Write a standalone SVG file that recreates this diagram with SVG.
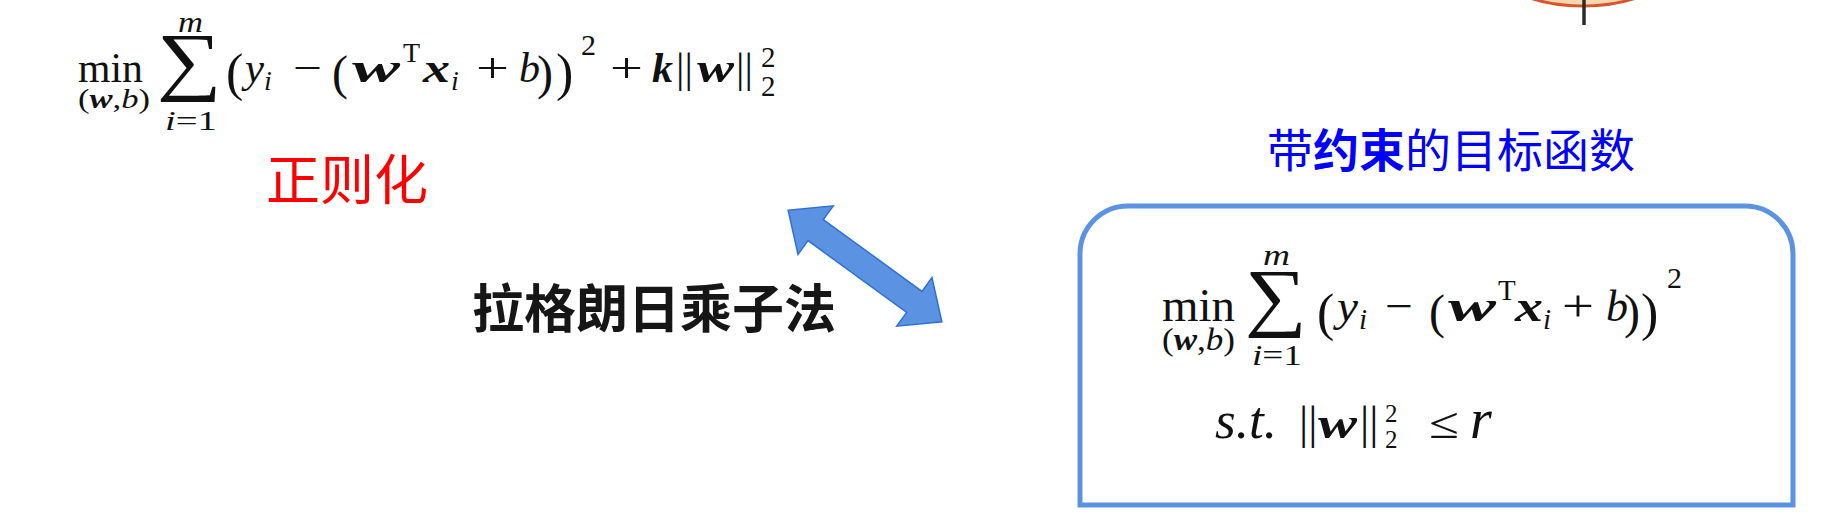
<svg xmlns="http://www.w3.org/2000/svg" width="1829" height="528" viewBox="0 0 1829 528">
<style>
.math{font-family:"Liberation Serif","DejaVu Serif",serif;fill:#111}
.it{font-style:italic}
.bi{font-style:italic;font-weight:bold}
.cjk{font-family:"Noto Sans CJK SC","Noto Sans",sans-serif}
</style>
<rect x="0" y="0" width="1829" height="528" fill="#ffffff"/>

<g id="image-fragment">
<ellipse cx="1583" cy="-60" rx="110" ry="66" fill="#fbd7b0" stroke="#d9542c" stroke-width="3"/>
<ellipse cx="1583" cy="-62" rx="104" ry="61" fill="none" stroke="#f3a96a" stroke-width="2"/>
<line x1="1584" y1="0" x2="1584" y2="25" stroke="#2a2a2a" stroke-width="3.5"/>
</g>

<g id="formula-regularized" class="math">
<text x="78" y="82" font-size="42" textLength="65" lengthAdjust="spacingAndGlyphs">min</text>
<text x="78" y="108" font-size="28" textLength="72" lengthAdjust="spacingAndGlyphs">(<tspan class="bi">w</tspan>,<tspan class="it">b</tspan>)</text>
<text x="157" y="86" font-size="76" textLength="65" lengthAdjust="spacingAndGlyphs">∑</text>
<text x="178" y="32" font-size="30" class="it" textLength="25" lengthAdjust="spacingAndGlyphs">m</text>
<text x="165" y="130" font-size="28" textLength="52" lengthAdjust="spacingAndGlyphs"><tspan class="it">i</tspan>=1</text>
<text x="226" y="90" font-size="52">(</text>
<text x="245" y="82" font-size="42" class="it" textLength="19" lengthAdjust="spacingAndGlyphs">y</text>
<text x="264" y="90" font-size="28" class="it">i</text>
<text x="293" y="82" font-size="42" textLength="29" lengthAdjust="spacingAndGlyphs">−</text>
<text x="332" y="89" font-size="48">(</text>
<text x="352" y="82" font-size="42" class="bi" textLength="48" lengthAdjust="spacingAndGlyphs">w</text>
<text x="403" y="62" font-size="28">T</text>
<text x="423" y="82" font-size="42" class="bi" textLength="27" lengthAdjust="spacingAndGlyphs">x</text>
<text x="451" y="90" font-size="28" class="it">i</text>
<text x="476" y="82" font-size="42" textLength="33" lengthAdjust="spacingAndGlyphs">+</text>
<text x="519" y="82" font-size="42" class="it">b</text>
<text x="537" y="89" font-size="48">)</text>
<text x="556" y="90" font-size="52">)</text>
<text x="581" y="55" font-size="30">2</text>
<text x="610" y="82" font-size="42" textLength="33" lengthAdjust="spacingAndGlyphs">+</text>
<text x="652" y="82" font-size="42" class="bi">k</text>
<text x="676" y="82" font-size="42">||</text>
<text x="697" y="82" font-size="42" class="bi" textLength="37" lengthAdjust="spacingAndGlyphs">w</text>
<text x="736" y="82" font-size="42">||</text>
<text x="761" y="67" font-size="29">2</text>
<text x="761" y="96" font-size="29">2</text>
</g>

<g id="label-regularization">
<text class="cjk" x="266" y="200" font-size="54" fill="#ff0000">正则化</text>
</g>

<g id="label-lagrange">
<text class="cjk" x="472" y="328" font-size="52" font-weight="bold" fill="#161616">拉格朗日乘子法</text>
</g>

<g id="connectors">
<polygon transform="translate(865 266) rotate(36)" points="-95,0 -61,-30 -61,-13 61,-13 61,-30 95,0 61,30 61,13 -61,13 -61,30" fill="#5b93e2" stroke="#3070d6" stroke-width="1.5" stroke-linejoin="miter"/>
</g>

<g id="title-constrained">
<text class="cjk" x="1267" y="167" font-size="46" fill="#0000ff">带<tspan font-weight="bold">约束</tspan>的目标函数</text>
</g>

<g id="box-constrained">
<path d="M1080,505 L1080,254 A48,48 0 0 1 1128,206 L1745,206 A48,48 0 0 1 1793,254 L1793,505 Z" fill="#ffffff" stroke="#5b93e2" stroke-width="5"/>
<g class="math">
<text x="1162" y="321" font-size="47" textLength="73" lengthAdjust="spacingAndGlyphs">min</text>
<text x="1162" y="350" font-size="31" textLength="73" lengthAdjust="spacingAndGlyphs">(<tspan class="bi">w</tspan>,<tspan class="it">b</tspan>)</text>
<text x="1245" y="322" font-size="76" textLength="62" lengthAdjust="spacingAndGlyphs">∑</text>
<text x="1263" y="265" font-size="30" class="it" textLength="27" lengthAdjust="spacingAndGlyphs">m</text>
<text x="1252" y="365" font-size="30" textLength="50" lengthAdjust="spacingAndGlyphs"><tspan class="it">i</tspan>=1</text>
<text x="1317" y="330" font-size="52">(</text>
<text x="1337" y="321" font-size="44" class="it" textLength="21" lengthAdjust="spacingAndGlyphs">y</text>
<text x="1359" y="329" font-size="29" class="it">i</text>
<text x="1385" y="321" font-size="44" textLength="28" lengthAdjust="spacingAndGlyphs">−</text>
<text x="1429" y="328" font-size="48">(</text>
<text x="1448" y="321" font-size="44" class="bi" textLength="48" lengthAdjust="spacingAndGlyphs">w</text>
<text x="1498" y="300" font-size="29">T</text>
<text x="1515" y="321" font-size="44" class="bi" textLength="28" lengthAdjust="spacingAndGlyphs">x</text>
<text x="1543" y="329" font-size="29" class="it">i</text>
<text x="1562" y="321" font-size="44" textLength="32" lengthAdjust="spacingAndGlyphs">+</text>
<text x="1606" y="321" font-size="44" class="it">b</text>
<text x="1624" y="328" font-size="48">)</text>
<text x="1641" y="330" font-size="52">)</text>
<text x="1667" y="288" font-size="30">2</text>

<text x="1215" y="438" font-size="52" class="it" textLength="62" lengthAdjust="spacingAndGlyphs">s.t.</text>
<text x="1299" y="438" font-size="46">||</text>
<text x="1318" y="438" font-size="44" class="bi" textLength="39" lengthAdjust="spacingAndGlyphs">w</text>
<text x="1360" y="438" font-size="46">||</text>
<text x="1385" y="422" font-size="25">2</text>
<text x="1385" y="448" font-size="25">2</text>
<text x="1429" y="438" font-size="44" textLength="30" lengthAdjust="spacingAndGlyphs">≤</text>
<text x="1470" y="438" font-size="56" class="it">r</text>
</g>
</g>
</svg>
